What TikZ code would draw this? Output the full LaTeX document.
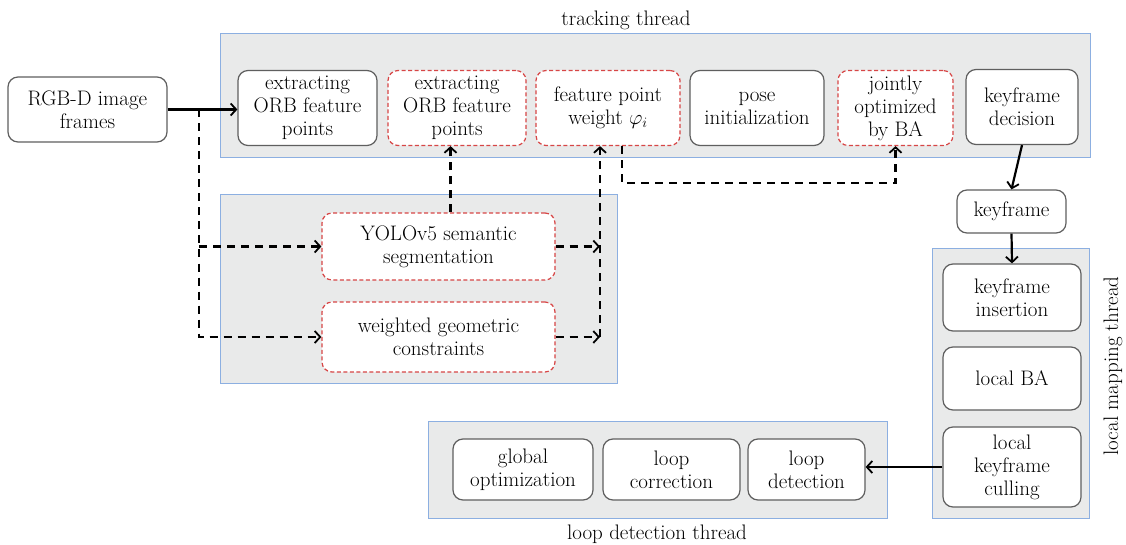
\documentclass[tikz,border=0pt]{standalone}
\usetikzlibrary{arrows.meta}
\definecolor{panelfill}{RGB}{233,234,234}
\definecolor{panelline}{RGB}{140,175,225}
\definecolor{reddash}{RGB}{215,70,70}
\definecolor{nodeline}{RGB}{95,95,95}
\newcommand{\fs}{\fontsize{21}{23}\selectfont}
\begin{document}
\begin{tikzpicture}[x=1pt,y=-1pt,
 panel/.style={draw=panelline, fill=panelfill, line width=1pt},
 proc/.style={draw=nodeline, fill=white, line width=1.2pt, rounded corners=10pt, align=center, font=\fs, text=black, inner sep=2pt},
 rproc/.style={proc, draw=reddash, dash pattern=on 4pt off 2.5pt},
 flow/.style={line width=2.2pt, -{Straight Barb[length=5.5pt,width=12pt,line width=1.8pt]}},
 dflow/.style={flow, dash pattern=on 8pt off 6pt},
 lbl/.style={font=\fs, inner sep=0pt}]
\useasboundingbox (0,0) rectangle (1126,545);
% panels
\draw[panel] (220,34) rectangle (1090,158);
\draw[panel] (220,195) rectangle (617,383);
\draw[panel] (932,249) rectangle (1089,518);
\draw[panel] (428,421) rectangle (887,518);
% labels
\node[lbl] (ttl) at (626,20) {tracking thread};
\node[lbl] (ltl) at (657,534) {loop detection thread};
\node[lbl, rotate=90] (mtl) at (1113,366) {local mapping thread};
% nodes
\node[proc, minimum width=159pt, minimum height=65pt] (rgb) at (87.5,109.5) {RGB-D image\\frames};
\node[proc, minimum width=139pt, minimum height=75pt] (n1) at (307.5,108) {extracting\\ORB feature\\points};
\node[rproc, minimum width=138pt, minimum height=75pt] (n2) at (457,108) {extracting\\ORB feature\\points};
\node[rproc, minimum width=144pt, minimum height=75pt] (n3) at (608,108) {feature point\\weight $\varphi_i$};
\node[proc, minimum width=134pt, minimum height=75pt] (n4) at (757,108) {pose\\initialization};
\node[rproc, minimum width=115pt, minimum height=75pt] (n5) at (895.5,108) {jointly\\optimized\\by BA};
\node[proc, minimum width=112pt, minimum height=75pt] (n6) at (1022,107) {keyframe\\decision};
\node[proc, minimum width=109pt, minimum height=43pt] (kf) at (1011.5,211.5) {keyframe};
\node[proc, minimum width=138pt, minimum height=67pt] (ki) at (1012,297.5) {keyframe\\insertion};
\node[proc, minimum width=138pt, minimum height=63pt] (lba) at (1012,378.5) {local BA};
\node[proc, minimum width=138pt, minimum height=80pt] (kc) at (1012,467) {local\\keyframe\\culling};
\node[rproc, minimum width=233pt, minimum height=67pt] (yolo) at (438.5,246.5) {YOLOv5 semantic\\segmentation};
\node[rproc, minimum width=233pt, minimum height=70pt] (wgc) at (438.5,337) {weighted geometric\\constraints};
\node[proc, minimum width=140pt, minimum height=61pt] (glob) at (523,469.5) {global\\optimization};
\node[proc, minimum width=137pt, minimum height=61pt] (lcor) at (671.5,469.5) {loop\\correction};
\node[proc, minimum width=117pt, minimum height=61pt] (ldet) at (806.5,469.5) {loop\\detection};
% connectors
\coordinate (sA) at (199,109.5);
\coordinate (jr) at (600,0);
\draw[flow] (rgb.east) -- (rgb.east -| n1.west);
\draw[dflow] (sA) |- (wgc.west);
\draw[dflow] (sA |- yolo.west) -- (yolo.west);
\draw[dflow] ([xshift=12pt]yolo.north) -- ([xshift=12pt]yolo.north |- n2.south);
\draw[dflow] (yolo.east) -- (yolo.east -| jr);
\draw[dflow] (wgc.east) -- (wgc.east -| jr);
\draw[dflow] (wgc.east -| jr) -- (jr |- n3.south);
\draw[dflow] ([xshift=14pt]n3.south) -- ++(0,37) -| (n5.south);
\draw[flow] (n6.south) -- (kf.north);
\draw[flow] (kf.south) -- (ki.north);
\draw[flow] (kc.west) -- (kc.west -| ldet.east);
\end{tikzpicture}
\end{document}
